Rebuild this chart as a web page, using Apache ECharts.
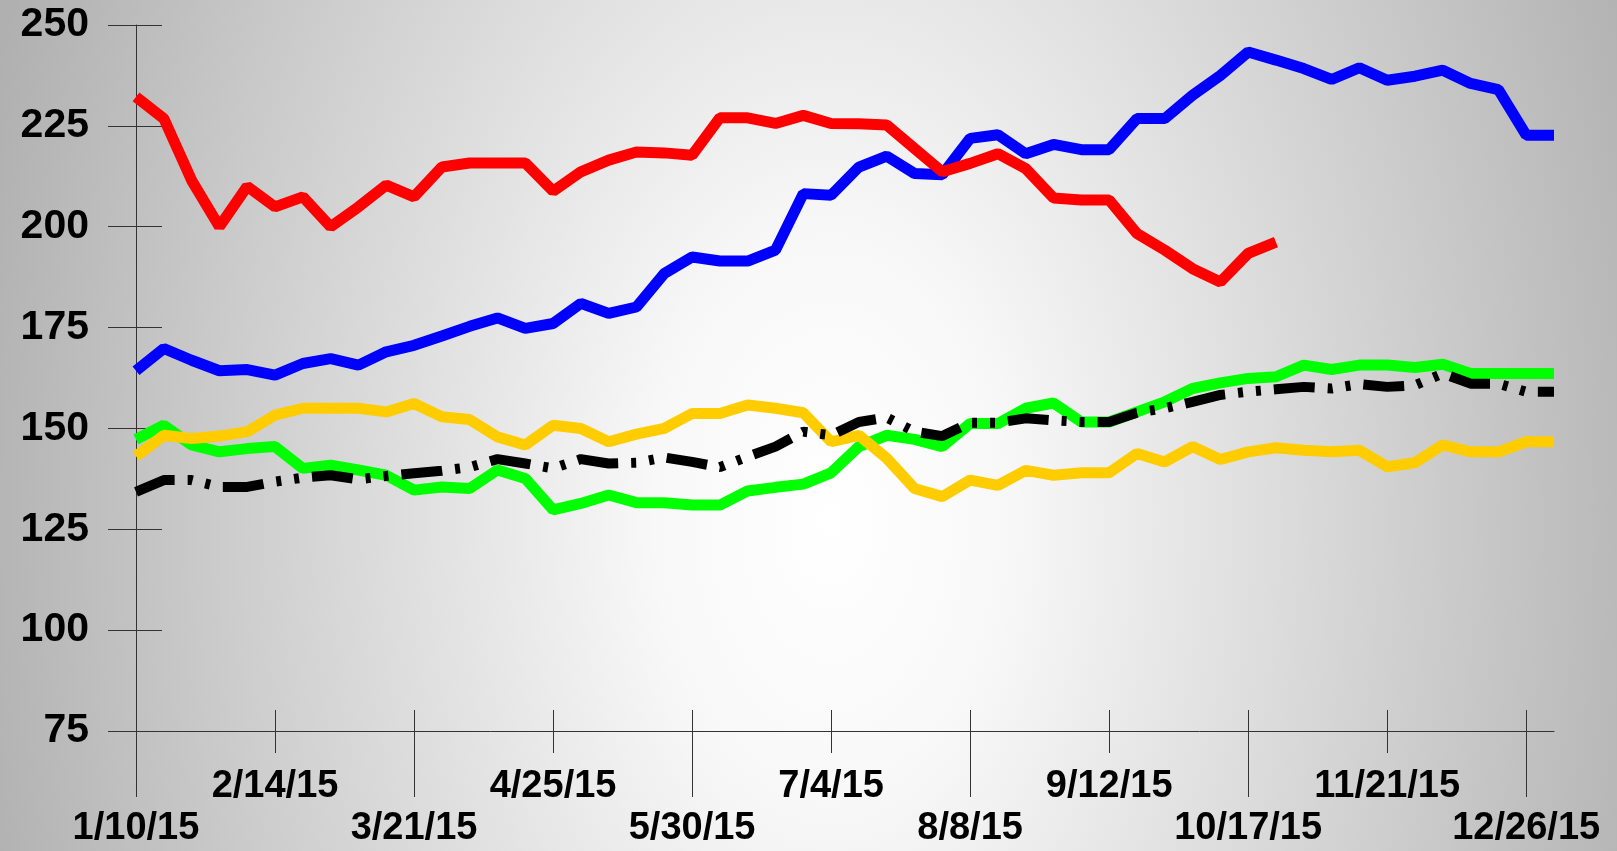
<!DOCTYPE html>
<html>
<head>
<meta charset="utf-8">
<script src="https://cdn.jsdelivr.net/npm/echarts@6/dist/echarts.min.js"></script>
<style>
  html, body { margin: 0; padding: 0; }
  #chart {
    width: 1617px;
    height: 851px;
    background: radial-gradient(ellipse 880px 1400px at 830px 520px, #ffffff 0%, #f8f8f8 20%, #b0b0b0 100%);
  }
</style>
</head>
<body>
<div id="chart"></div>
<script>
var weeks = ['1/10/15','1/17/15','1/24/15','1/31/15','2/7/15','2/14/15','2/21/15','2/28/15','3/7/15','3/14/15',
    '3/21/15','3/28/15','4/4/15','4/11/15','4/18/15','4/25/15','5/2/15','5/9/15','5/16/15','5/23/15',
    '5/30/15','6/6/15','6/13/15','6/20/15','6/27/15','7/4/15','7/11/15','7/18/15','7/25/15','8/1/15',
    '8/8/15','8/15/15','8/22/15','8/29/15','9/5/15','9/12/15','9/19/15','9/26/15','10/3/15','10/10/15',
    '10/17/15','10/24/15','10/31/15','11/7/15','11/14/15','11/21/15','11/28/15','12/5/15','12/12/15','12/19/15',
    '12/26/15','1/2/16'];

var redVals = [232.2, 226.8, 211.5, 200, 210, 204.9, 207.4, 200, 204.9, 210.3,
    207.4, 214.8, 215.8, 215.8, 215.8, 208.8, 213.6, 216.5, 218.5, 218.3,
    217.7, 227, 227, 225.6, 227.6, 225.6, 225.5, 225.2, 219.4, 213.6,
    215.7, 218.1, 214.4, 207.1, 206.6, 206.6, 198.3, 194.2, 189.6, 186.3,
    193.4, 196.2];

var blueVals = [164.3, 169.8, 166.9, 164.3, 164.6, 163.2, 166.1, 167.3, 165.7, 169,
    170.6, 172.9, 175.3, 177.4, 174.8, 176, 181, 178.5, 180.1, 188.4,
    192.5, 191.5, 191.5, 194.2, 208.2, 207.8, 214.8, 217.5, 213.2, 212.9,
    221.9, 222.8, 218.1, 220.4, 219.1, 219.1, 226.8, 226.8, 232.6, 237.5,
    243.3, 241.3, 239.2, 236.5, 239.4, 236.3, 237.3, 238.8, 235.5, 234,
    222.7, 222.7];

var yellowVals = [143.1, 148.3, 147.5, 148.1, 149.2, 153.3, 155, 155, 155, 154.1,
    156.2, 152.9, 152.2, 147.9, 145.9, 150.8, 150, 146.7, 148.6, 150,
    153.7, 153.7, 155.8, 155, 153.9, 146.7, 148.3, 142.6, 135.1, 133.1,
    137.2, 135.9, 139.6, 138.4, 139, 139, 143.8, 141.7, 145.5, 142.3,
    144.2, 145.2, 144.6, 144.2, 144.6, 140.5, 141.5, 145.9, 144.2, 144.2,
    146.7, 146.7];

var greenVals = [147.3, 150.8, 145.9, 144.2, 145, 145.5, 140.1, 140.9, 139.7, 138.4,
    134.7, 135.5, 135.1, 139.7, 137.6, 129.8, 131.4, 133.5, 131.6, 131.6,
    131, 131, 134.5, 135.4, 136.2, 139, 145.5, 148.3, 147.3, 145.5,
    151.2, 151.2, 155, 156.3, 151.6, 151.6, 154.1, 156.6, 159.9, 161.3,
    162.4, 162.8, 165.7, 164.6, 165.7, 165.7, 165.1, 165.9, 163.6, 163.6,
    163.6, 163.6];

var blackVals = [134.3, 137.2, 137.2, 135.5, 135.5, 136.8, 137.8, 138.4, 137.4, 138.2,
    138.9, 139.5, 140.4, 142.4, 141.3, 140.1, 142.4, 141.3, 141.5, 142.8,
    141.7, 140.4, 143, 145.5, 149.2, 148.3, 151.6, 152.7, 149.2, 148.1,
    151.4, 151.4, 152.5, 152, 151.6, 151.6, 153.9, 155, 156.6, 158.3,
    159.1, 159.7, 160.3, 159.9, 161, 160.3, 160.7, 163.6, 161.1, 161.1,
    159.1, 159.1];

var yMin = 75, yMax = 250, yStep = 25;

var chart = echarts.init(document.getElementById('chart'));

var labelFont = "'Liberation Sans', Arial, Helvetica, sans-serif";
var axisColor = '#333';

function line(name, data, color, width, dash) {
    return {
        name: name,
        type: 'line',
        data: data,
        symbol: 'none',
        silent: true,
        lineStyle: { color: color, width: width, type: dash || 'solid', cap: 'butt' }
    };
}

function dateLabel(margin, pick) {
    return {
        interval: pick,
        margin: margin,
        color: '#000',
        fontFamily: labelFont,
        fontWeight: 'bold',
        fontSize: 38
    };
}

var option = {
    backgroundColor: 'transparent',
    animation: false,
    grid: { left: 136, right: 63, top: 25, bottom: 120, containLabel: false, outerBoundsMode: 'none' },
    xAxis: [
        {
            // long ticks + lower row of dates
            type: 'category',
            data: weeks,
            boundaryGap: false,
            position: 'bottom',
            axisLine: { lineStyle: { color: axisColor, width: 1 } },
            axisTick: {
                length: 66,
                interval: function (i) { return i % 10 === 0; },
                lineStyle: { color: axisColor }
            },
            axisLabel: dateLabel(79, function (i) { return i % 10 === 0; }),
            splitLine: { show: false }
        },
        {
            // short ticks + upper row of dates
            type: 'category',
            data: weeks,
            boundaryGap: false,
            position: 'bottom',
            axisLine: { show: false },
            axisTick: {
                length: 22,
                interval: function (i) { return i % 10 === 5; },
                lineStyle: { color: axisColor }
            },
            axisLabel: dateLabel(37, function (i) { return i % 10 === 5; }),
            splitLine: { show: false }
        },
        {
            type: 'category',
            data: weeks,
            boundaryGap: false,
            position: 'bottom',
            axisLine: { show: false },
            axisTick: {
                inside: true,
                length: 21,
                interval: function (i) { return i % 5 === 0; },
                lineStyle: { color: axisColor }
            },
            axisLabel: { show: false },
            splitLine: { show: false }
        }
    ],
    yAxis: [
        {
            type: 'value',
            min: yMin,
            max: yMax,
            interval: yStep,
            position: 'left',
            axisLine: { show: true, lineStyle: { color: axisColor, width: 1 } },
            axisTick: { show: true, length: 28, lineStyle: { color: axisColor } },
            axisLabel: {
                margin: 47,
                color: '#000',
                fontFamily: labelFont,
                fontWeight: 'bold',
                fontSize: 41
            },
            splitLine: { show: false }
        },
        {
            type: 'value',
            min: yMin,
            max: yMax,
            interval: yStep,
            position: 'left',
            axisLine: { show: false },
            axisTick: { show: true, inside: true, length: 26, lineStyle: { color: axisColor } },
            axisLabel: { show: false },
            splitLine: { show: false }
        }
    ],
    series: [
        line('green', greenVals, '#00ff00', 11),
        line('yellow', yellowVals, '#ffcc00', 11),
        line('blue', blueVals, '#0000ff', 11),
        line('red', redVals, '#ff0000', 11),
        line('black', blackVals, '#000000', 10, [41, 13, 5, 13, 5, 13])
    ]
};

chart.setOption(option);
</script>
</body>
</html>
